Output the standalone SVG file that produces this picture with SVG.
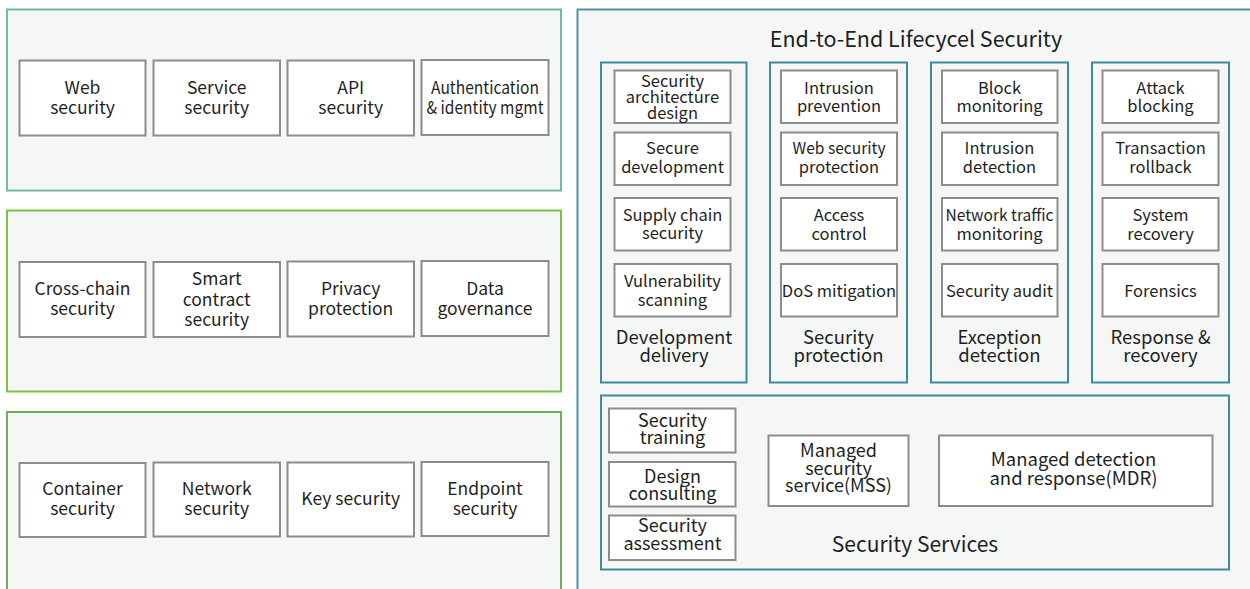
<svg xmlns="http://www.w3.org/2000/svg" width="1250" height="589" viewBox="0 0 1250 589">
  <style>
    text { font-family: "Noto Sans CJK SC", "Noto Sans", sans-serif; fill: #1f1f1f; text-anchor: middle; }
    .panel { fill: #f5f7f6; stroke-width: 2; }
    .box { fill: #ffffff; stroke: #8c8c8c; stroke-width: 2; }
    .col { fill: none; stroke: #3f8b9c; stroke-width: 2; }
    .tl { font-size: 17.5px; }
    .t16 { font-size: 16.5px; }
    .t18 { font-size: 18px; }
    .t185 { font-size: 18.5px; }
    .title { font-size: 21.5px; }
    .sub { font-size: 21px; }
    .lbl { font-size: 18.5px; }
  </style>

  <!-- Left: application layer -->
  <g id="panel-app">
    <rect class="panel" x="7" y="9.5" width="554" height="181" stroke="#72bc9e"/>
    <g id="web-security"><rect class="box" x="19.5" y="60.5" width="126" height="75"/>
      <text class="tl"><tspan x="82.5" y="93.5">Web</tspan><tspan x="82.5" y="113.5">security</tspan></text></g>
    <g id="service-security"><rect class="box" x="153.5" y="60.5" width="126.5" height="75"/>
      <text class="tl"><tspan x="216.7" y="93.5">Service</tspan><tspan x="216.7" y="113.5">security</tspan></text></g>
    <g id="api-security"><rect class="box" x="287.5" y="60.5" width="126.5" height="75"/>
      <text class="tl"><tspan x="350.7" y="93.5">API</tspan><tspan x="350.7" y="113.5">security</tspan></text></g>
    <g id="auth-identity"><rect class="box" x="421.5" y="60" width="127" height="75"/>
      <text class="tl"><tspan x="485" y="93.5" textLength="108" lengthAdjust="spacingAndGlyphs">Authentication</tspan><tspan x="485" y="113.5" textLength="117" lengthAdjust="spacingAndGlyphs">&amp; identity mgmt</tspan></text></g>
  </g>

  <!-- Left: chain layer -->
  <g id="panel-chain">
    <rect class="panel" x="7" y="210.5" width="554" height="181" stroke="#7dc242"/>
    <g id="cross-chain"><rect class="box" x="19.5" y="262" width="126" height="75"/>
      <text class="tl"><tspan x="82.5" y="295">Cross-chain</tspan><tspan x="82.5" y="315">security</tspan></text></g>
    <g id="smart-contract"><rect class="box" x="153.5" y="262" width="126.5" height="75"/>
      <text class="tl"><tspan x="216.7" y="285">Smart</tspan><tspan x="216.7" y="305.5">contract</tspan><tspan x="216.7" y="326">security</tspan></text></g>
    <g id="privacy"><rect class="box" x="287.5" y="261.5" width="126.5" height="75"/>
      <text class="tl"><tspan x="350.7" y="295">Privacy</tspan><tspan x="350.7" y="315">protection</tspan></text></g>
    <g id="data-governance"><rect class="box" x="421.5" y="261" width="127" height="75"/>
      <text class="tl"><tspan x="485" y="295">Data</tspan><tspan x="485" y="315">governance</tspan></text></g>
  </g>

  <!-- Left: infrastructure layer -->
  <g id="panel-infra">
    <rect class="panel" x="7" y="412" width="554" height="200" stroke="#6ab056"/>
    <g id="container"><rect class="box" x="19.5" y="463" width="126" height="74"/>
      <text class="tl"><tspan x="82.5" y="495">Container</tspan><tspan x="82.5" y="515">security</tspan></text></g>
    <g id="network"><rect class="box" x="153.5" y="462.5" width="126.5" height="74"/>
      <text class="tl"><tspan x="216.7" y="495">Network</tspan><tspan x="216.7" y="515">security</tspan></text></g>
    <g id="key"><rect class="box" x="287.5" y="462.5" width="126.5" height="74"/>
      <text class="tl" x="350.7" y="504.5">Key security</text></g>
    <g id="endpoint"><rect class="box" x="421.5" y="462" width="127" height="74"/>
      <text class="tl"><tspan x="485" y="495">Endpoint</tspan><tspan x="485" y="515">security</tspan></text></g>
  </g>

  <!-- Right: lifecycle -->
  <g id="panel-lifecycle">
    <rect class="panel" x="577.5" y="9.5" width="690" height="600" stroke="#4f93a3"/>
    <text class="title" x="916" y="47">End-to-End Lifecycel Security</text>
  </g>

  <g id="dev-delivery">
    <rect class="col" x="601" y="62.5" width="145.5" height="320"/>
    <rect class="box" x="614.5" y="70.5" width="116" height="52.5"/>
    <text class="t16"><tspan x="672.5" y="87">Security</tspan><tspan x="672.5" y="102.7">architecture</tspan><tspan x="672.5" y="118.7">design</tspan></text>
    <rect class="box" x="614.5" y="132.5" width="116" height="52.5"/>
    <text class="t16"><tspan x="672.5" y="153.7">Secure</tspan><tspan x="672.5" y="172.5">development</tspan></text>
    <rect class="box" x="614.5" y="198" width="116" height="52.5"/>
    <text class="t16"><tspan x="672.5" y="221">Supply chain</tspan><tspan x="672.5" y="239">security</tspan></text>
    <rect class="box" x="614.5" y="264" width="116" height="52.5"/>
    <text class="t16"><tspan x="672.5" y="287">Vulnerability</tspan><tspan x="672.5" y="305.5">scanning</tspan></text>
    <text class="lbl"><tspan x="674" y="343.5">Development</tspan><tspan x="674" y="362">delivery</tspan></text>
  </g>

  <g id="sec-protection">
    <rect class="col" x="770" y="62.5" width="137" height="320"/>
    <rect class="box" x="781" y="70.5" width="116" height="52.5"/>
    <text class="t16"><tspan x="839" y="93.7">Intrusion</tspan><tspan x="839" y="112">prevention</tspan></text>
    <rect class="box" x="781" y="132.5" width="116" height="52.5"/>
    <text class="t16"><tspan x="839" y="153.7" textLength="93" lengthAdjust="spacingAndGlyphs">Web security</tspan><tspan x="839" y="173">protection</tspan></text>
    <rect class="box" x="781" y="198" width="116" height="52.5"/>
    <text class="t16"><tspan x="839" y="220.5">Access</tspan><tspan x="839" y="240">control</tspan></text>
    <rect class="box" x="781" y="264" width="116" height="52.5"/>
    <text class="t16" x="839" y="297">DoS mitigation</text>
    <text class="lbl"><tspan x="838.5" y="343.5">Security</tspan><tspan x="838.5" y="362">protection</tspan></text>
  </g>

  <g id="exception-detection">
    <rect class="col" x="931" y="62.5" width="137" height="320"/>
    <rect class="box" x="942" y="70.5" width="115.5" height="52.5"/>
    <text class="t16"><tspan x="999.5" y="93.7">Block</tspan><tspan x="999.5" y="112">monitoring</tspan></text>
    <rect class="box" x="942" y="132.5" width="115.5" height="52.5"/>
    <text class="t16"><tspan x="999.5" y="153.7">Intrusion</tspan><tspan x="999.5" y="173">detection</tspan></text>
    <rect class="box" x="942" y="198" width="115.5" height="52.5"/>
    <text class="t16"><tspan x="999.5" y="220.5" textLength="108" lengthAdjust="spacingAndGlyphs">Network traffic</tspan><tspan x="999.5" y="240">monitoring</tspan></text>
    <rect class="box" x="942" y="264" width="115.5" height="52.5"/>
    <text class="t16" x="999.5" y="297">Security audit</text>
    <text class="lbl"><tspan x="999.5" y="343.5">Exception</tspan><tspan x="999.5" y="362">detection</tspan></text>
  </g>

  <g id="response-recovery">
    <rect class="col" x="1092" y="62.5" width="137" height="320"/>
    <rect class="box" x="1102.5" y="70.5" width="116" height="52.5"/>
    <text class="t16"><tspan x="1160.5" y="93.7">Attack</tspan><tspan x="1160.5" y="112">blocking</tspan></text>
    <rect class="box" x="1102.5" y="132.5" width="116" height="52.5"/>
    <text class="t16"><tspan x="1160.5" y="153.7">Transaction</tspan><tspan x="1160.5" y="173">rollback</tspan></text>
    <rect class="box" x="1102.5" y="198" width="116" height="52.5"/>
    <text class="t16"><tspan x="1160.5" y="220.5">System</tspan><tspan x="1160.5" y="240">recovery</tspan></text>
    <rect class="box" x="1102.5" y="264" width="116" height="52.5"/>
    <text class="t16" x="1160.5" y="297">Forensics</text>
    <text class="lbl"><tspan x="1160.5" y="343.5">Response &amp;</tspan><tspan x="1160.5" y="362">recovery</tspan></text>
  </g>

  <g id="security-services">
    <rect class="col" x="601" y="395.5" width="628" height="174"/>
    <rect class="box" x="609" y="408.5" width="126.5" height="44"/>
    <text class="t18"><tspan x="672.5" y="427">Security</tspan><tspan x="672.5" y="444">training</tspan></text>
    <rect class="box" x="609" y="462" width="126.5" height="44.5"/>
    <text class="t18"><tspan x="672.5" y="482.5">Design</tspan><tspan x="672.5" y="499.5">consulting</tspan></text>
    <rect class="box" x="609" y="515.5" width="126.5" height="44.5"/>
    <text class="t18"><tspan x="672.5" y="532">Security</tspan><tspan x="672.5" y="549.5">assessment</tspan></text>
    <rect class="box" x="768.5" y="435.5" width="140" height="70.5"/>
    <text class="t18"><tspan x="838.5" y="457">Managed</tspan><tspan x="838.5" y="474.5">security</tspan><tspan x="838.5" y="492">service(MSS)</tspan></text>
    <rect class="box" x="939" y="435.5" width="273.5" height="70.5"/>
    <text class="t185"><tspan x="1073.5" y="466">Managed detection</tspan><tspan x="1073.5" y="484.5">and response(MDR)</tspan></text>
    <text class="sub" x="915" y="552">Security Services</text>
  </g>
</svg>
